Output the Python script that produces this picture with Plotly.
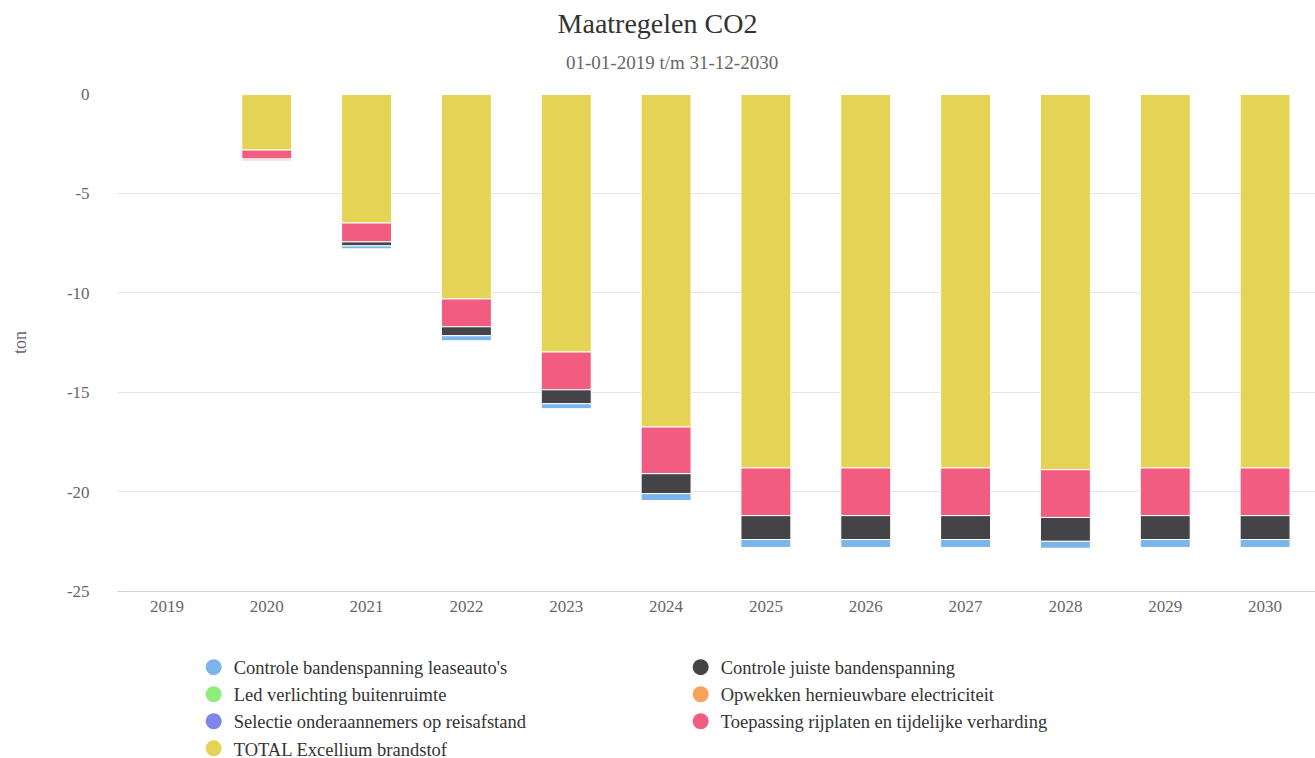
import plotly.graph_objects as go

years = ["2019", "2020", "2021", "2022", "2023", "2024", "2025", "2026", "2027", "2028", "2029", "2030"]

total_excellium = [0, -2.82, -6.49, -10.31, -12.98, -16.75, -18.81, -18.81, -18.81, -18.9, -18.81, -18.81]
toepassing_rijplaten = [0, -0.45, -0.95, -1.4, -1.9, -2.35, -2.4, -2.4, -2.4, -2.4, -2.4, -2.4]
controle_juiste = [0, -0.05, -0.2, -0.45, -0.7, -1.0, -1.2, -1.2, -1.2, -1.2, -1.2, -1.2]
controle_lease = [0, -0.05, -0.15, -0.25, -0.25, -0.35, -0.4, -0.4, -0.4, -0.35, -0.4, -0.4]
led_verlichting = [0] * 12
opwekken = [0] * 12
selectie = [0] * 12

title_text = "Maatregelen CO2"
subtitle_text = "01-01-2019 t/m 31-12-2030"

names = {
    "lease": "Controle bandenspanning leaseauto's",
    "juiste": "Controle juiste bandenspanning",
    "led": "Led verlichting buitenruimte",
    "opwekken": "Opwekken hernieuwbare electriciteit",
    "selectie": "Selectie onderaannemers op reisafstand",
    "toepassing": "Toepassing rijplaten en tijdelijke verharding",
    "total": "TOTAL Excellium brandstof",
}
colors = {
    "lease": "#7cb5ec",
    "juiste": "#434348",
    "led": "#90ed7d",
    "opwekken": "#f7a35c",
    "selectie": "#8085e9",
    "toepassing": "#f15c80",
    "total": "#e4d354",
}

FONT = "Liberation Serif, Times New Roman, serif"

fig = go.Figure()

# stacking order from zero downward
stack = [
    ("total", total_excellium),
    ("toepassing", toepassing_rijplaten),
    ("juiste", controle_juiste),
    ("lease", controle_lease),
    ("led", led_verlichting),
    ("opwekken", opwekken),
    ("selectie", selectie),
]
for key, vals in stack:
    fig.add_trace(go.Bar(
        x=years, y=vals, name=names[key],
        marker=dict(color=colors[key], line=dict(color="white", width=1)),
        showlegend=False,
    ))

# legend entries with circle symbols
for key in ["lease", "juiste", "led", "opwekken", "selectie", "toepassing", "total"]:
    fig.add_trace(go.Scatter(
        x=[None], y=[None], mode="markers", name=names[key],
        marker=dict(color=colors[key], size=18, symbol="circle"),
        showlegend=True,
    ))

fig.update_layout(
    barmode="relative",
    bargap=0.5,
    width=1315, height=758,
    margin=dict(l=117, r=0, t=94, b=167, autoexpand=False),
    paper_bgcolor="white",
    plot_bgcolor="white",
    font=dict(family=FONT, color="#666666", size=17),
    title=dict(
        text=title_text,
        x=0.5, xanchor="center", xref="container",
        y=1 - 23 / 758, yanchor="middle", yref="container",
        font=dict(family=FONT, size=28, color="#333333"),
    ),
    annotations=[dict(
        text=subtitle_text, xref="paper", yref="paper",
        x=(672 - 117) / 1198, y=1 + (94 - 63) / 497, xanchor="center", yanchor="middle",
        showarrow=False, font=dict(family=FONT, size=19, color="#666666"),
    )],
    xaxis=dict(
        type="category",
        range=[-0.5, 11.5],
        showline=True, linecolor="#ccd6eb", linewidth=1,
        ticks="", showgrid=False,
        tickfont=dict(family=FONT, size=17, color="#666666"),
    ),
    yaxis=dict(
        range=[-25, 0],
        tickvals=[0, -5, -10, -15, -20, -25],
        ticktext=["0", "-5", "-10", "-15", "-20", "-25"],
        showgrid=True, gridcolor="#e6e6e6", gridwidth=1,
        zeroline=False, showline=False,
        ticks="outside", ticklen=23, tickcolor="rgba(0,0,0,0)",
        tickfont=dict(family=FONT, size=17, color="#666666"),
        title=dict(text="ton", font=dict(family=FONT, size=18, color="#666666"), standoff=35),
    ),
    legend=dict(
        orientation="h",
        x=0.064, xanchor="left",
        y=-0.116, yanchor="top",
        entrywidth=442, entrywidthmode="pixels",
        font=dict(family=FONT, size=18.5, color="#333333"),
        itemsizing="trace",
        traceorder="normal",
    ),
    hovermode=False,
)

fig.write_html(
    "out.html",
    config={"displayModeBar": False},
    post_script="document.body.style.margin='0px';document.body.style.overflow='hidden';",
)
